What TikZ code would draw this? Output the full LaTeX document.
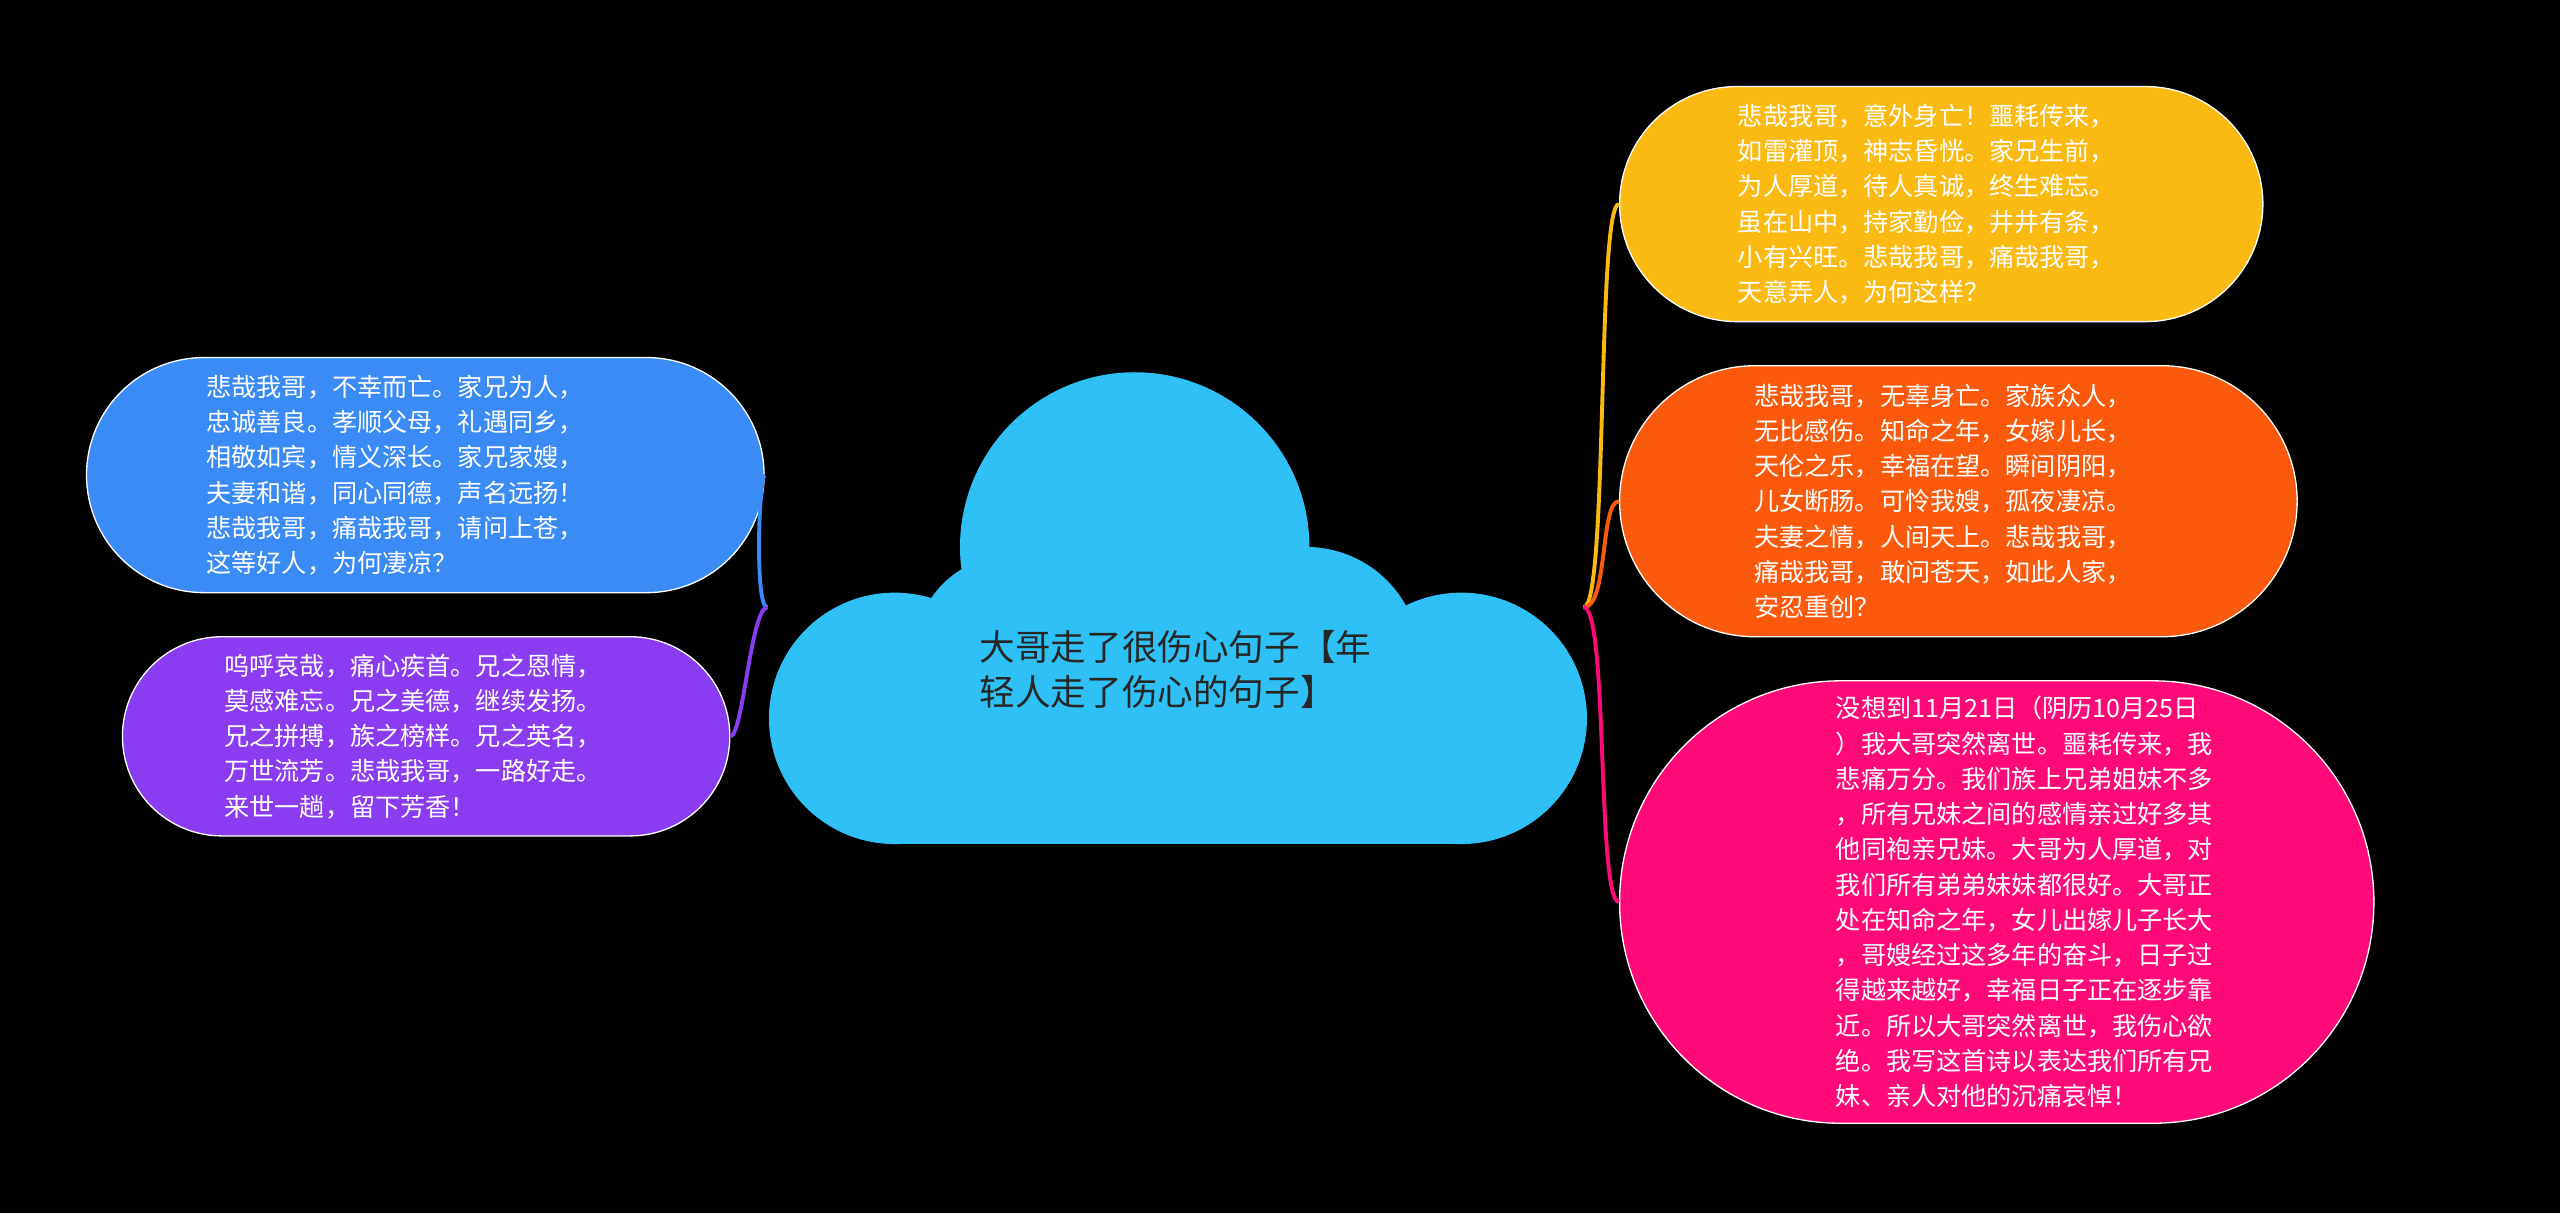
\documentclass[tikz,border=0pt]{standalone}
\usepackage{fontspec}
\newfontfamily\cjk{Noto Sans CJK SC}
\definecolor{cyel}{HTML}{FBBA12}
\definecolor{corg}{HTML}{FB5A0C}
\definecolor{cpnk}{HTML}{FF0A78}
\definecolor{cblu}{HTML}{3A8BF5}
\definecolor{cpur}{HTML}{8A3CF0}
\definecolor{ccld}{HTML}{2FC1F5}
\begin{document}
\begin{tikzpicture}[x=0.5pt,y=-0.5pt,
  box/.style={draw=white,line width=0.4pt,inner sep=0pt},
  txt/.style={text=white,align=left,inner sep=0pt,
    font=\cjk\fontsize{7.7pt}{10.8pt}\selectfont},
  link/.style={line width=1.2pt}]
\fill[black] (0,0) rectangle (1568,743);
\useasboundingbox (0,0) rectangle (1568,743);
% cloud
\fill[ccld] (548,440) circle[radius=77] (695,335) circle[radius=107]
  (895,440) circle[radius=77] (800,405) circle[radius=70] (620,400) circle[radius=60];
\fill[ccld] (548,420) rectangle (895,517);
\node[font=\cjk\fontsize{10.9pt}{14pt}\selectfont,text=black!85,align=left] (c) at (720,410)
  {大哥走了很伤心句子【年\\轻人走了伤心的句子】};
\coordinate (cr) at (970,372);
\coordinate (cl) at (470,372);
% boxes
\node[box,fill=cyel,minimum width=197pt,minimum height=72pt,rounded corners=36pt] (y) at (1189,125) {};
\node[txt] (yt) at (1180,125)
 {悲哉我哥，意外身亡！噩耗传来，\\如雷灌顶，神志昏恍。家兄生前，\\为人厚道，待人真诚，终生难忘。\\虽在山中，持家勤俭，井井有条，\\小有兴旺。悲哉我哥，痛哉我哥，\\天意弄人，为何这样？};
\node[box,fill=corg,minimum width=207.5pt,minimum height=83pt,rounded corners=41.5pt] (o) at (1199.5,307) {};
\node[txt] (ot) at (1190,307)
 {悲哉我哥，无辜身亡。家族众人，\\无比感伤。知命之年，女嫁儿长，\\天伦之乐，幸福在望。瞬间阴阳，\\儿女断肠。可怜我嫂，孤夜凄凉。\\夫妻之情，人间天上。悲哉我哥，\\痛哉我哥，敢问苍天，如此人家，\\安忍重创？};
\node[box,fill=cpnk,minimum width=231pt,minimum height=135.5pt,rounded corners=67.7pt] (p) at (1223,552.5) {};
\node[txt] (pt) at (1240,552.5)
 {没想到11月21日（阴历10月25日\\）我大哥突然离世。噩耗传来，我\\悲痛万分。我们族上兄弟姐妹不多\\，所有兄妹之间的感情亲过好多其\\他同袍亲兄妹。大哥为人厚道，对\\我们所有弟弟妹妹都很好。大哥正\\处在知命之年，女儿出嫁儿子长大\\，哥嫂经过这多年的奋斗，日子过\\得越来越好，幸福日子正在逐步靠\\近。所以大哥突然离世，我伤心欲\\绝。我写这首诗以表达我们所有兄\\妹、亲人对他的沉痛哀悼！};
\node[box,fill=cblu,minimum width=207.5pt,minimum height=72pt,rounded corners=36pt] (b) at (260.5,291) {};
\node[txt] (bt) at (242,291)
 {悲哉我哥，不幸而亡。家兄为人，\\忠诚善良。孝顺父母，礼遇同乡，\\相敬如宾，情义深长。家兄家嫂，\\夫妻和谐，同心同德，声名远扬！\\悲哉我哥，痛哉我哥，请问上苍，\\这等好人，为何凄凉？};
\node[box,fill=cpur,minimum width=186pt,minimum height=61pt,rounded corners=30.5pt] (u) at (261,451) {};
\node[txt] (ut) at (253,451)
 {呜呼哀哉，痛心疾首。兄之恩情，\\莫感难忘。兄之美德，继续发扬。\\兄之拼搏，族之榜样。兄之英名，\\万世流芳。悲哉我哥，一路好走。\\来世一趟，留下芳香！};
% links
\draw[link,cyel] (cr) .. controls (985,372) and (978,125) .. (y.west);
\draw[link,corg] (cr) .. controls (985,372) and (980,307) .. (o.west);
\draw[link,cpnk] (cr) .. controls (985,372) and (978,552) .. (p.west);
\draw[link,cblu] (cl) .. controls (462,372) and (465,291) .. (b.east);
\draw[link,cpur] (cl) .. controls (460,372) and (455,451) .. (u.east);
\end{tikzpicture}
\end{document}
